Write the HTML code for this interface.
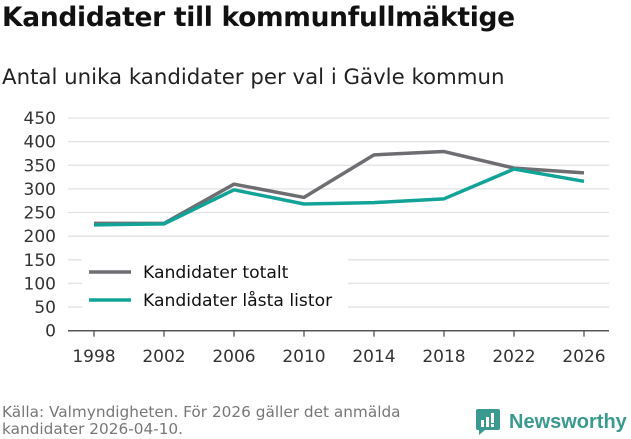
<!DOCTYPE html>
<html><head><meta charset="utf-8"><style>
body{margin:0;width:631px;height:439px;background:#fff;font-family:"DejaVu Sans","Liberation Sans",sans-serif;overflow:hidden;position:relative}
.t{position:absolute;left:2px;top:2px;font-size:26.5px;font-weight:bold;color:#111;letter-spacing:-0.3px}
.s{position:absolute;left:2px;top:65px;font-size:21.3px;color:#222}
.f{position:absolute;left:2px;top:404px;font-size:15.3px;color:#777;line-height:17px}
.logo{position:absolute;left:476px;top:409px;display:flex;align-items:center;color:#3a9a8f;font-size:20px;font-weight:bold;font-family:"Liberation Sans",sans-serif}
svg{position:absolute;left:0;top:0}
</style></head><body>
<div class="t">Kandidater till kommunfullmäktige</div>
<div class="s">Antal unika kandidater per val i Gävle kommun</div>
<svg id="c" width="631" height="439"></svg>
<div class="f">Källa: Valmyndigheten. För 2026 gäller det anmälda<br>kandidater 2026-04-10.</div>
<div class="logo"><svg width="24" height="26" style="position:static;margin-right:9px"><rect x="0" y="0" width="24" height="21" rx="2" fill="#3a9a8f"/><path d="M3 21 L3 26 L9 21Z" fill="#3a9a8f"/><rect x="5" y="11" width="3" height="7" fill="#fff"/><rect x="10" y="8" width="3" height="10" fill="#fff"/><rect x="15" y="4" width="3" height="10" fill="#fff"/><rect x="15" y="15" width="3" height="3" fill="#fff"/></svg>Newsworthy</div>
<script>
const years=[1998,2002,2006,2010,2014,2018,2022,2026];
const totalt=[227,227,310,282,372,379,344,334];
const lasta=[224,226,298,268,271,279,342,316];
const yTicks=[0,50,100,150,200,250,300,350,400,450];
const svg=document.getElementById('c');const NS='http://www.w3.org/2000/svg';
const X0=68,X1=609,Y0=330.7,Y1=118;
const x=y=>94+(y-1998)/(2026-1998)*(584-94);
const yv=v=>Y0-v/450*(Y0-Y1);
function el(t,a){const e=document.createElementNS(NS,t);for(const k in a)e.setAttribute(k,a[k]);svg.appendChild(e);return e;}
yTicks.forEach(v=>{
 if(v>0){const g=el('line',{x1:X0,x2:X1,y1:yv(v),y2:yv(v),stroke:'#e2e2e2','stroke-width':1.3});
 
 }
 const t=el('text',{x:56,y:yv(v)+6,'text-anchor':'end','font-size':17,fill:'#333'});t.textContent=v;
 
 
});
const ax=el('line',{x1:X0,x2:X1,y1:Y0,y2:Y0,stroke:'#555','stroke-width':1.5});


years.forEach(yr=>{
 const tk=el('line',{x1:x(yr),x2:x(yr),y1:Y0,y2:Y0+6,stroke:'#555','stroke-width':1.3});
 
 
 const t=el('text',{x:x(yr),y:362,'text-anchor':'middle','font-size':17,fill:'#333'});t.textContent=yr;
 
 
});
function line(vals,col,name){const p=el('polyline',{points:vals.map((v,i)=>x(years[i])+','+yv(v)).join(' '),fill:'none',stroke:col,'stroke-width':3.5,'stroke-linejoin':'round'});
 
 }
line(totalt,'#6e6d72','series-kandidater-totalt');
line(lasta,'#12a398','series-kandidater-lasta-listor');
const lb=el('rect',{x:82,y:258,width:266,height:53,fill:'#fff'});


[['Kandidater totalt','#6e6d72',272],['Kandidater låsta listor','#12a398',300]].forEach(([n,c,yy])=>{
 const l=el('line',{x1:89,x2:131,y1:yy,y2:yy,stroke:c,'stroke-width':3.5});
 
 
 const t=el('text',{x:143,y:yy+6,'font-size':17.2,fill:'#111'});t.textContent=n;
 
 
});
</script>
</body></html>
